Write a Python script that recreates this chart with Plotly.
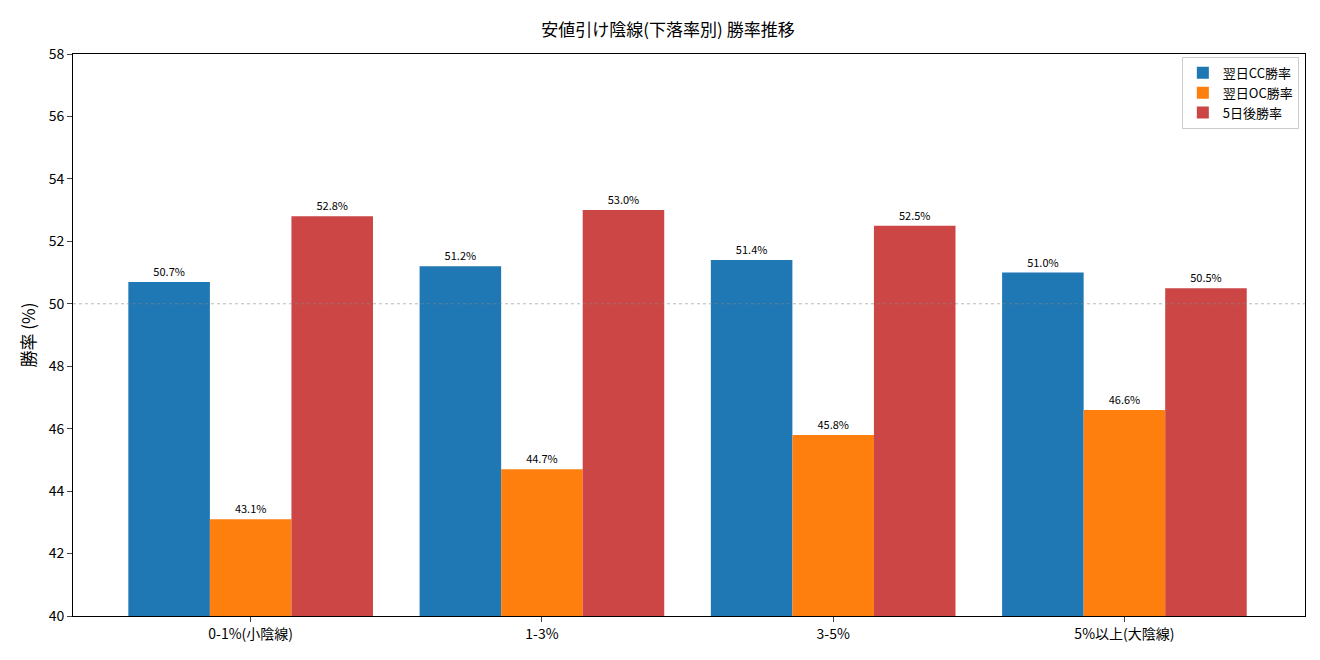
import plotly.graph_objects as go

categories = ["0-1%(小陰線)", "1-3%", "3-5%", "5%以上(大陰線)"]
cc = [50.7, 51.2, 51.4, 51.0]
oc = [43.1, 44.7, 45.8, 46.6]
d5 = [52.8, 53.0, 52.5, 50.5]
names = ["翌日CC勝率", "翌日OC勝率", "5日後勝率"]
colors = ["#1f77b4", "#ff7f0e", "#cc4646"]

fig = go.Figure()
for name, vals, c in zip(names, [cc, oc, d5], colors):
    fig.add_trace(go.Bar(x=list(range(4)), y=vals, name=name, marker_color=c,
                         marker_line_width=0,
                         text=[f"{v:.1f}%" for v in vals], textposition="outside",
                         textfont=dict(size=11, color="black"), cliponaxis=False))
fig.add_hline(y=50, line=dict(color="#888888", width=0.6, dash="dot"))
font = "Noto Sans CJK JP"
fig.update_layout(
    width=1320, height=660, plot_bgcolor="white", paper_bgcolor="white",
    font=dict(family=font, size=14, color="black"),
    title=dict(text="安値引け陰線(下落率別) 勝率推移", x=0.5, y=0.975, xanchor="center", font=dict(size=17)),
    barmode="group", bargap=0.16, bargroupgap=0,
    margin=dict(l=65, r=23, t=46, b=52, autoexpand=False),
    xaxis=dict(range=[-0.61, 3.62], tickvals=list(range(4)), ticktext=categories, automargin=False,
               showline=True, linecolor="black", mirror=True, ticks="outside", showgrid=False),
    yaxis=dict(range=[40, 58], dtick=2, title=dict(text="勝率 (%)", standoff=8), automargin=False,
               showline=True, linecolor="black", mirror=True, ticks="outside", showgrid=False),
    legend=dict(x=0.995, y=0.995, xanchor="right", yanchor="top", bordercolor="#cccccc",
                borderwidth=1, font=dict(size=13), bgcolor="white"),
)
fig.write_html("out.html")
